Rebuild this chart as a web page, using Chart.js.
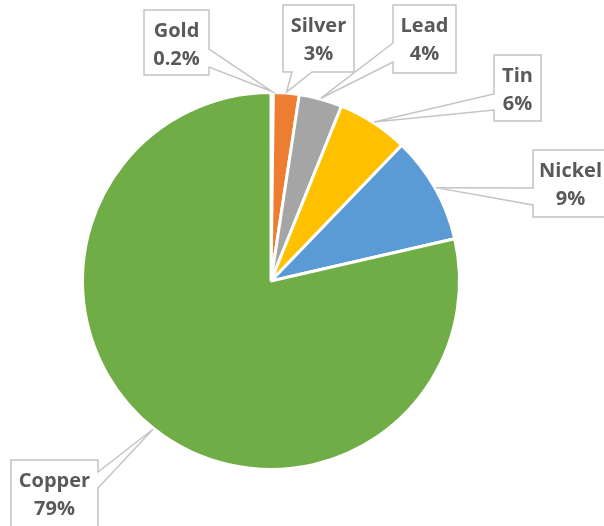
<!DOCTYPE html>
<html>
<head>
<meta charset="utf-8">
<script src="https://cdn.jsdelivr.net/npm/chart.js@4.4.1/dist/chart.umd.min.js"></script>
<style>
  html, body { margin: 0; padding: 0; background: #ffffff; }
  #wrap { width: 604px; height: 526px; position: relative; }
</style>
</head>
<body>
<div id="wrap"><canvas id="chart_metalPie" width="604" height="526"></canvas></div>
<script>
// slice shares (percent)
var metals = ['Gold', 'Silver', 'Lead', 'Tin', 'Nickel', 'Copper'];
var shares = [0.2, 2.2, 3.7, 6.1, 9.2, 78.6];
// percentage text shown in the callouts
var shareLabels = ['0.2%', '3%', '4%', '6%', '9%', '79%'];
var sliceColors = ['#4472C4', '#ED7D31', '#A5A5A5', '#FFC000', '#5B9BD5', '#70AD47'];

// callout boxes: box rect + wedge base on one side
var callouts = [
    { x: 144, y: 10, w: 65, h: 65, side: 'right', a: 49, b: 67 },
    { x: 283, y: 5, w: 71, h: 67, side: 'bottom', a: 292, b: 312 },
    { x: 393, y: 5, w: 63, h: 68, side: 'left', a: 43, b: 62 },
    { x: 494, y: 55, w: 47, h: 66, side: 'left', a: 94, b: 110 },
    { x: 533, y: 150, w: 82, h: 67, side: 'left', a: 188, b: 205 },
    { x: 11, y: 460, w: 87, h: 80, side: 'right', a: 472, b: 488 }
];

function calloutPath(ctx, c, tip) {
    var x0 = c.x, y0 = c.y, x1 = c.x + c.w, y1 = c.y + c.h;
    ctx.beginPath();
    ctx.moveTo(x0, y0);
    ctx.lineTo(x1, y0);
    if (c.side === 'right') {
        ctx.lineTo(x1, c.a);
        ctx.lineTo(tip.x, tip.y);
        ctx.lineTo(x1, c.b);
    }
    ctx.lineTo(x1, y1);
    if (c.side === 'bottom') {
        ctx.lineTo(c.b, y1);
        ctx.lineTo(tip.x, tip.y);
        ctx.lineTo(c.a, y1);
    }
    ctx.lineTo(x0, y1);
    if (c.side === 'left') {
        ctx.lineTo(x0, c.b);
        ctx.lineTo(tip.x, tip.y);
        ctx.lineTo(x0, c.a);
    }
    ctx.closePath();
}

var chart_metalPie = new Chart(document.getElementById('chart_metalPie'), {
    type: 'pie',
    data: {
        labels: metals,
        datasets: [
            {
                data: shares,
                backgroundColor: sliceColors,
                borderColor: '#ffffff',
                borderWidth: 3
            }
        ]
    },
    options: {
        animation: false,
        responsive: false,
        layout: {
            padding: { left: 81, right: 143, top: 91, bottom: 55 }
        },
        plugins: {
            legend: { display: false },
            tooltip: { enabled: false }
        }
    },
    plugins: [{
        id: 'calloutLabels',
        beforeDraw: (chart) => {
            const ctx = chart.ctx;
            ctx.save();
            ctx.fillStyle = 'white';
            ctx.fillRect(0, 0, chart.width, chart.height);
            ctx.restore();
        },
        afterDraw: (chart) => {
            const ctx = chart.ctx;
            const arcs = chart.getDatasetMeta(0).data;
            ctx.save();
            arcs.forEach(function(arc, i) {
                const c = callouts[i];
                const mid = (arc.startAngle + arc.endAngle) / 2;
                const r = arc.outerRadius + 1;
                const tip = { x: arc.x + Math.cos(mid) * r, y: arc.y + Math.sin(mid) * r };
                calloutPath(ctx, c, tip);
                ctx.fillStyle = '#ffffff';
                ctx.fill();
                ctx.lineWidth = 1.5;
                ctx.strokeStyle = '#C4C4C4';
                ctx.stroke();
                ctx.fillStyle = '#595959';
                ctx.font = 'bold 20px "Open Sans"';
                ctx.textAlign = 'center';
                ctx.textBaseline = 'middle';
                const cx = c.x + Math.min(c.w, 604 - c.x) / 2 + (i === 4 ? 2 : 0);
                ctx.fillText(metals[i], cx, c.y + 21);
                ctx.fillText(shareLabels[i], cx, c.y + 49);
            });
            ctx.restore();
        }
    }]
});
</script>
</body>
</html>
